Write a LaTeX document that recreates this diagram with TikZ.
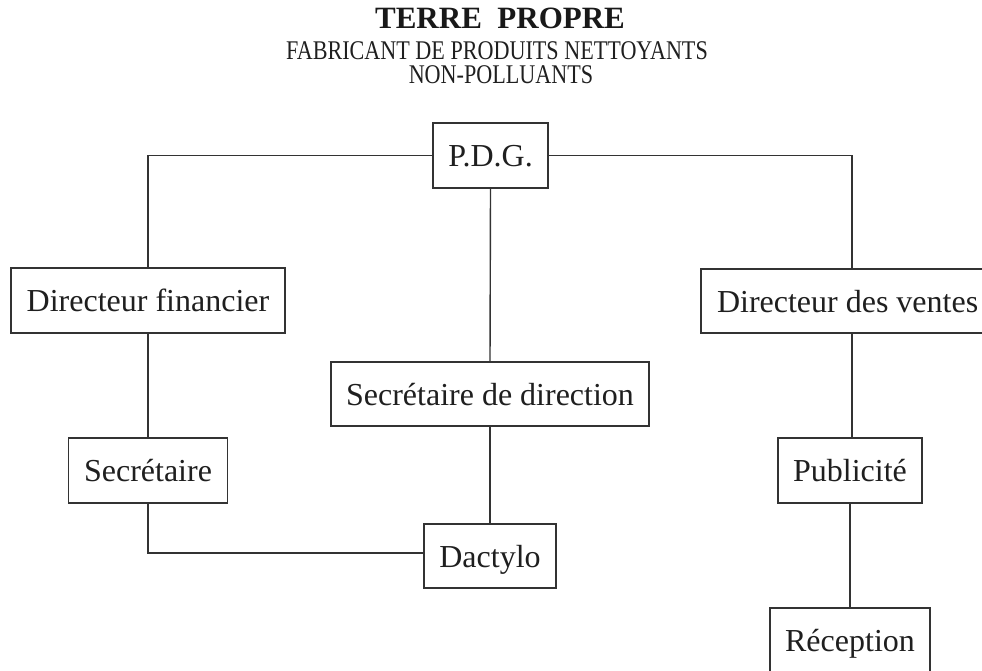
\documentclass[tikz,border=0pt]{standalone}
\usepackage{fontspec}
\setmainfont{Liberation Serif}
\begin{document}
\begin{tikzpicture}[x=1pt,y=-1pt,
  box/.style={draw=black!80, line width=1.3pt, fill=white, inner sep=0pt,
    text height=22pt, text depth=0pt, text=black!88,
    font=\fontsize{32}{38}\selectfont},
  link/.style={draw=black!80, line width=1.4pt},
  sub/.style={anchor=base, text=black!88}]
\useasboundingbox (0,0) rectangle (982,671);
% titles
\node[anchor=base, font=\bfseries\fontsize{31}{36}\selectfont, text=black!90] (t1) at (500,29) {TERRE\ \ PROPRE};
\node[sub] (t2) at (497,59.5) {\scalebox{0.82}[1]{\fontsize{27}{30}\selectfont FABRICANT DE PRODUITS NETTOYANTS}};
\node[sub] (t3) at (501,84) {\scalebox{0.82}[1]{\fontsize{27}{30}\selectfont NON-POLLUANTS}};
% boxes
\node[box, minimum width=115pt, minimum height=65pt] (pdg) at (490.5,155.5) {P.D.G.};
\node[box, minimum width=274pt, minimum height=65pt] (df) at (148,300.5) {Directeur financier};
\node[box, minimum width=159pt, minimum height=65pt] (sec) at (148,470.5) {Secrétaire};
\node[box, minimum width=318pt, minimum height=64pt] (sd) at (490,394) {Secrétaire de direction};
\node[box, minimum width=132pt, minimum height=64pt] (dac) at (490,556) {Dactylo};
\node[box, minimum width=302pt, minimum height=64pt, text width=270pt, align=flush left] (dv) at (852,301) {Directeur des ventes};
\node[box, minimum width=144pt, minimum height=65pt] (pub) at (850,470.5) {Publicité};
\node[box, minimum width=160pt, minimum height=65pt] (rec) at (850,640.5) {Réception};
% connectors
\draw[link] (pdg.west) -| (df.north);
\draw[link] (pdg.east) -| (dv.north);
\draw[link] (pdg.south) -- (sd.north);
\draw[link] (df.south) -- (sec.north);
\draw[link] (sec.south) |- ([yshift=3pt]dac.west);
\draw[link] (sd.south) -- (dac.north);
\draw[link] (dv.south) -- (dv.south |- pub.north);
\draw[link] (pub.south) -- (rec.north);
\end{tikzpicture}
\end{document}
